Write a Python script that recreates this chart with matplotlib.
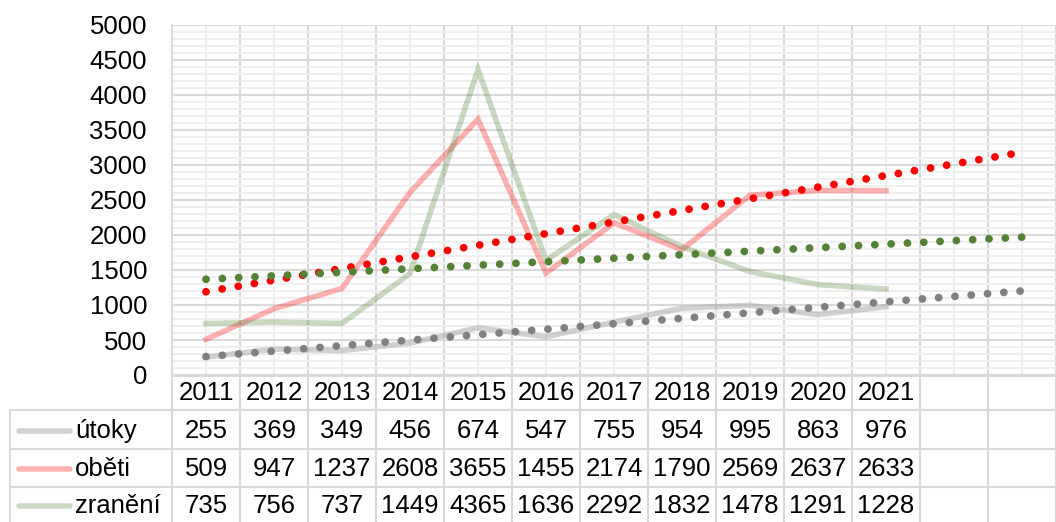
import numpy as np
import matplotlib
matplotlib.use("Agg")
import matplotlib.pyplot as plt
from matplotlib.ticker import MultipleLocator, FixedLocator

plt.rcParams['font.family'] = ['Liberation Sans', 'DejaVu Sans']

years = ["2011", "2012", "2013", "2014", "2015", "2016", "2017", "2018", "2019", "2020", "2021"]
series_names = ["útoky", "oběti", "zranění"]
utoky = [255, 369, 349, 456, 674, 547, 755, 954, 995, 863, 976]
obeti = [509, 947, 1237, 2608, 3655, 1455, 2174, 1790, 2569, 2637, 2633]
zraneni = [735, 756, 737, 1449, 4365, 1636, 2292, 1832, 1478, 1291, 1228]
forecast_periods = 2

line_colors = ["#A5A5A5", "#FF0000", "#548235"]
line_alpha = [0.5, 0.3, 0.3]
trend_colors = ["#808080", "#FF0000", "#548235"]

W, H = 1056, 522
fig = plt.figure(figsize=(W / 100, H / 100), dpi=100)

def px_axes(x0, y0, x1, y1):
    return fig.add_axes([x0 / W, 1 - y1 / H, (x1 - x0) / W, (y1 - y0) / H])

FS = 18.5
ncols = len(years) + forecast_periods
ax = px_axes(172, 25, 1056, 375)
ax.set_xlim(-0.5, ncols - 0.5)
ax.set_ylim(0, 5000)

grid_major = "#D9D9D9"
grid_minor = "#EFEFEF"
ax.yaxis.set_major_locator(MultipleLocator(500))
ax.yaxis.set_minor_locator(MultipleLocator(100))
ax.xaxis.set_major_locator(FixedLocator(np.arange(ncols + 1) - 0.5))
ax.xaxis.set_minor_locator(FixedLocator(np.arange(ncols)))
ax.grid(which="minor", color=grid_minor, lw=1.5, zorder=0)
ax.grid(which="major", color=grid_major, lw=1.5, zorder=0)
ax.set_axisbelow(True)
ax.tick_params(axis="both", which="both", length=0)
ax.tick_params(axis="y", labelsize=FS, pad=18)
ax.set_xticklabels([])
for s in ["top", "right"]:
    ax.spines[s].set_visible(False)
for s in ["left", "bottom"]:
    ax.spines[s].set_color(grid_major)
    ax.spines[s].set_linewidth(1.5)

xs = np.arange(len(years))
data = [utoky, obeti, zraneni]
for vals, c, a in zip(data, line_colors, line_alpha):
    ax.plot(xs, vals, color=c, alpha=a, lw=4, solid_joinstyle="miter", zorder=3)

xt = np.arange(ncols)
for vals, c in zip(data, trend_colors):
    k, b = np.polyfit(xs, vals, 1)
    ax.plot(xt, k * xt + b, color=c, lw=5.6, linestyle=(0, (0.01, 2.09)),
            dash_capstyle="round", zorder=4)

# data table
tx = px_axes(172, 375, 1056, 522)
tx.set_xlim(-0.5, ncols - 0.5)
tx.set_ylim(522, 375)
tx.axis("off")
colw = 68.0
def xpx(p):
    return -0.5 + (p - 172) / colw

tcol = grid_major
tlw = 1.5
tx.plot([-0.5, ncols - 0.5], [375.5, 375.5], color=tcol, lw=tlw, clip_on=False)
for yl in [410, 449, 487]:
    tx.plot([xpx(10), ncols - 0.5], [yl, yl], color=tcol, lw=tlw, clip_on=False)
tx.plot([xpx(10), xpx(10)], [410, 522], color=tcol, lw=tlw, clip_on=False)
for k in range(ncols + 1):
    tx.plot([k - 0.5, k - 0.5], [375, 522], color=tcol, lw=tlw, clip_on=False)

for i, y in enumerate(years):
    tx.text(i, 393, y, ha="center", va="center", fontsize=FS)

row_y = [431, 469, 506]
for vals, name, c, a, ry in zip(data, series_names, line_colors, line_alpha, row_y):
    tx.plot([xpx(19), xpx(70)], [ry, ry], color=c, alpha=a, lw=4,
            solid_capstyle="round", clip_on=False)
    tx.text(xpx(75), ry, name, ha="left", va="center", fontsize=FS, clip_on=False)
    for i, v in enumerate(vals):
        tx.text(i, ry, str(v), ha="center", va="center", fontsize=FS)

fig.savefig("out.png", dpi=100)
